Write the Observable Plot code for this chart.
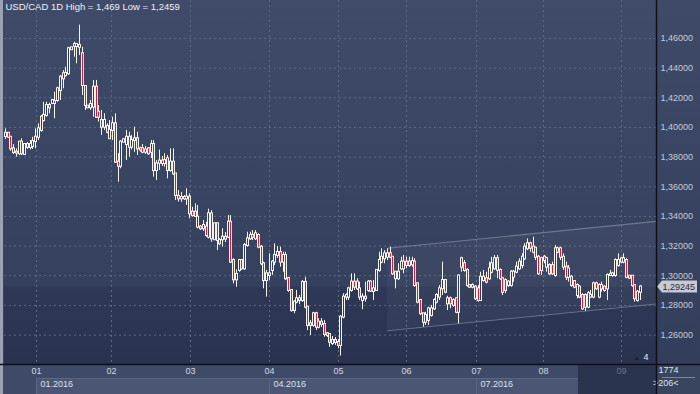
<!DOCTYPE html>
<html><head><meta charset="utf-8">
<script src="https://cdn.jsdelivr.net/npm/d3@7"></script>
<script src="https://cdn.jsdelivr.net/npm/@observablehq/plot@0.6"></script>
<style>
html,body{margin:0;padding:0;background:#3a4562;}
#chart{width:700px;height:394px;overflow:hidden;}
</style></head><body><div id="chart"></div>
<script>
// ---- Data (USD/CAD daily candles) ----
const openP = [1.3939,1.3961,1.3934,1.3856,1.3828,1.3823,1.3901,1.3818,1.3885,1.3865,1.3872,1.3905,1.3934,1.3980,1.4047,1.4081,1.4148,1.4162,1.4162,1.4182,1.4249,1.4328,1.4351,1.4362,1.4524,1.4548,1.4546,1.4541,1.4497,1.4276,1.4144,1.4133,1.4137,1.4272,1.4103,1.4047,1.4002,1.4007,1.3924,1.3980,1.4025,1.3766,1.3739,1.3901,1.3885,1.3934,1.3867,1.3912,1.3924,1.3856,1.3856,1.3833,1.3856,1.3833,1.3885,1.3710,1.3759,1.3773,1.3757,1.3789,1.3710,1.3766,1.3687,1.3535,1.3519,1.3528,1.3519,1.3530,1.3429,1.3429,1.3328,1.3328,1.3317,1.3328,1.3260,1.3418,1.3243,1.3351,1.3238,1.3243,1.3260,1.3260,1.3361,1.3103,1.2973,1.3036,1.3103,1.3047,1.3204,1.3249,1.3272,1.3249,1.3272,1.3193,1.3081,1.2968,1.3002,1.3036,1.3092,1.3137,1.3157,1.3092,1.3137,1.2980,1.2901,1.2766,1.2822,1.2845,1.2833,1.2955,1.2788,1.2665,1.2665,1.2744,1.2653,1.2687,1.2672,1.2609,1.2604,1.2543,1.2564,1.2550,1.2530,1.2721,1.2856,1.2856,1.2901,1.2957,1.2912,1.2912,1.2833,1.2856,1.2901,1.2957,1.2894,1.2901,1.3036,1.3092,1.3115,1.3125,1.3148,1.3125,1.3024,1.2980,1.3047,1.3047,1.3092,1.3092,1.3074,1.3092,1.2946,1.2833,1.2744,1.2687,1.2699,1.2732,1.2777,1.2822,1.2856,1.2912,1.2968,1.2811,1.2845,1.2800,1.2845,1.2754,1.3058,1.3081,1.3036,1.2934,1.2923,1.2923,1.2912,1.2833,1.2968,1.2980,1.2980,1.3024,1.3047,1.3115,1.3036,1.2980,1.2968,1.2934,1.2934,1.2990,1.3024,1.3047,1.3069,1.3115,1.3182,1.3216,1.3159,1.3186,1.3125,1.3036,1.3125,1.3058,1.3069,1.3069,1.3002,1.3182,1.3182,1.3125,1.3058,1.2990,1.2990,1.2961,1.2867,1.2923,1.2867,1.2867,1.2788,1.2856,1.2856,1.2946,1.2856,1.2912,1.2923,1.2912,1.3002,1.3002,1.3002,1.3069,1.3115,1.3092,1.3103,1.2997,1.2997,1.2934,1.2833,1.2889];
const highP = [1.3991,1.3966,1.3939,1.3885,1.3856,1.3907,1.3924,1.3892,1.3899,1.3912,1.3934,1.3991,1.4025,1.4081,1.4170,1.4170,1.4164,1.4189,1.4238,1.4272,1.4351,1.4384,1.4406,1.4541,1.4541,1.4575,1.4564,1.4690,1.4541,1.4280,1.4148,1.4182,1.4317,1.4317,1.4148,1.4115,1.4092,1.4025,1.4047,1.4069,1.4092,1.3823,1.3912,1.3924,1.3980,1.3968,1.3946,1.4002,1.3968,1.3867,1.3885,1.3872,1.3865,1.3912,1.3912,1.3777,1.3848,1.3804,1.3823,1.3811,1.3856,1.3856,1.3690,1.3575,1.3562,1.3541,1.3587,1.3553,1.3462,1.3485,1.3474,1.3339,1.3373,1.3361,1.3449,1.3440,1.3355,1.3355,1.3251,1.3317,1.3292,1.3406,1.3406,1.3115,1.3040,1.3110,1.3110,1.3218,1.3294,1.3294,1.3305,1.3305,1.3283,1.3204,1.3092,1.3036,1.3148,1.3103,1.3216,1.3197,1.3193,1.3159,1.3159,1.2990,1.2905,1.2833,1.2901,1.2867,1.2968,1.2990,1.2795,1.2699,1.2754,1.2754,1.2710,1.2712,1.2699,1.2618,1.2609,1.2591,1.2584,1.2570,1.2732,1.2879,1.2879,1.2923,1.3013,1.3013,1.2980,1.2957,1.2879,1.2957,1.2968,1.2968,1.2968,1.3040,1.3159,1.3182,1.3170,1.3182,1.3193,1.3130,1.3030,1.3081,1.3125,1.3137,1.3125,1.3125,1.3125,1.3115,1.2950,1.2836,1.2747,1.2754,1.2788,1.2800,1.2845,1.2879,1.2934,1.3092,1.2972,1.2862,1.2856,1.2845,1.2850,1.3005,1.3125,1.3103,1.3047,1.2941,1.2946,1.2934,1.2934,1.3024,1.3036,1.3024,1.3092,1.3125,1.3137,1.3137,1.3047,1.2990,1.2980,1.2968,1.3036,1.3036,1.3092,1.3115,1.3148,1.3216,1.3249,1.3226,1.3260,1.3193,1.3137,1.3125,1.3137,1.3125,1.3081,1.3092,1.3204,1.3193,1.3193,1.3148,1.3092,1.3069,1.3002,1.2968,1.2946,1.2934,1.2879,1.2879,1.2894,1.2901,1.2957,1.2957,1.2946,1.2957,1.2934,1.3013,1.3036,1.3024,1.3115,1.3148,1.3120,1.3148,1.3115,1.3002,1.3002,1.2938,1.2901,1.2934];
const lowP = [1.3919,1.3930,1.3840,1.3818,1.3800,1.3811,1.3811,1.3811,1.3852,1.3848,1.3852,1.3856,1.3912,1.3968,1.4036,1.4069,1.4092,1.4155,1.4059,1.4170,1.4182,1.4261,1.4339,1.4351,1.4519,1.4474,1.4429,1.4485,1.4216,1.4115,1.4126,1.4115,1.4069,1.4061,1.4036,1.3946,1.3980,1.3957,1.3919,1.3912,1.3757,1.3631,1.3721,1.3899,1.3777,1.3800,1.3848,1.3833,1.3811,1.3833,1.3823,1.3818,1.3811,1.3791,1.3665,1.3643,1.3710,1.3737,1.3732,1.3654,1.3698,1.3676,1.3508,1.3496,1.3494,1.3508,1.3474,1.3384,1.3395,1.3395,1.3317,1.3305,1.3299,1.3260,1.3249,1.3226,1.3238,1.3170,1.3204,1.3193,1.3224,1.3251,1.3083,1.2946,1.2923,1.3024,1.3036,1.3036,1.3193,1.3238,1.3238,1.3238,1.3182,1.3069,1.2912,1.2856,1.2968,1.3002,1.3069,1.3117,1.3058,1.3024,1.2968,1.2889,1.2754,1.2744,1.2811,1.2806,1.2820,1.2777,1.2631,1.2597,1.2653,1.2631,1.2642,1.2651,1.2586,1.2584,1.2518,1.2530,1.2530,1.2508,1.2459,1.2710,1.2833,1.2833,1.2889,1.2901,1.2901,1.2833,1.2771,1.2822,1.2889,1.2889,1.2833,1.2894,1.3024,1.3081,1.3081,1.3103,1.3115,1.3002,1.2912,1.2968,1.3036,1.3013,1.3047,1.3056,1.3058,1.2923,1.2811,1.2732,1.2653,1.2665,1.2665,1.2721,1.2766,1.2811,1.2833,1.2867,1.2879,1.2766,1.2777,1.2788,1.2744,1.2676,1.3024,1.3024,1.2923,1.2914,1.2912,1.2833,1.2822,1.2828,1.2957,1.2946,1.2968,1.3013,1.3036,1.2980,1.2968,1.2867,1.2879,1.2921,1.2923,1.2957,1.3013,1.3036,1.3047,1.3103,1.3170,1.3159,1.3148,1.3103,1.3002,1.3002,1.3081,1.3024,1.3002,1.3002,1.2990,1.3148,1.3103,1.3036,1.2968,1.2957,1.2923,1.2912,1.2845,1.2845,1.2766,1.2759,1.2777,1.2847,1.2845,1.2901,1.2845,1.2889,1.2889,1.2833,1.2995,1.2990,1.2990,1.3058,1.3081,1.3081,1.2980,1.2975,1.2923,1.2822,1.2822,1.2833];
const closeP = [1.3961,1.3934,1.3856,1.3831,1.3833,1.3901,1.3823,1.3885,1.3865,1.3885,1.3905,1.3934,1.3991,1.4069,1.4081,1.4148,1.4133,1.4182,1.4175,1.4261,1.4339,1.4362,1.4364,1.4531,1.4537,1.4560,1.4560,1.4553,1.4283,1.4148,1.4133,1.4155,1.4272,1.4069,1.4069,1.4002,1.4047,1.3968,1.3980,1.4025,1.3766,1.3739,1.3901,1.3917,1.3934,1.3867,1.3912,1.3924,1.3856,1.3848,1.3833,1.3848,1.3823,1.3885,1.3710,1.3755,1.3773,1.3757,1.3777,1.3710,1.3766,1.3687,1.3541,1.3519,1.3528,1.3519,1.3530,1.3418,1.3406,1.3400,1.3395,1.3317,1.3339,1.3272,1.3418,1.3249,1.3351,1.3238,1.3216,1.3260,1.3247,1.3361,1.3092,1.2973,1.3009,1.3103,1.3047,1.3204,1.3249,1.3272,1.3260,1.3283,1.3193,1.3081,1.2968,1.3013,1.3013,1.3092,1.3137,1.3157,1.3092,1.3137,1.2980,1.2901,1.2766,1.2822,1.2845,1.2833,1.2955,1.2788,1.2665,1.2676,1.2744,1.2653,1.2687,1.2672,1.2604,1.2597,1.2552,1.2564,1.2550,1.2530,1.2721,1.2856,1.2867,1.2912,1.2957,1.2923,1.2957,1.2856,1.2856,1.2845,1.2957,1.2896,1.2912,1.3036,1.3103,1.3125,1.3148,1.3148,1.3125,1.3013,1.2980,1.3024,1.3092,1.3092,1.3069,1.3069,1.3096,1.2934,1.2822,1.2744,1.2687,1.2732,1.2777,1.2777,1.2833,1.2867,1.2912,1.2968,1.2889,1.2845,1.2811,1.2833,1.2754,1.2999,1.3115,1.3036,1.2934,1.2923,1.2934,1.2845,1.2833,1.2990,1.2990,1.2957,1.3047,1.3081,1.3115,1.3036,1.2980,1.2889,1.2901,1.2957,1.3024,1.3024,1.3058,1.3092,1.3125,1.3193,1.3216,1.3186,1.3193,1.3125,1.3013,1.3115,1.3103,1.3115,1.3013,1.3013,1.3182,1.3159,1.3125,1.3058,1.2990,1.3047,1.2934,1.2923,1.2934,1.2856,1.2777,1.2788,1.2879,1.2867,1.2946,1.2912,1.2934,1.2934,1.2901,1.3002,1.3009,1.3013,1.3103,1.3103,1.3092,1.3115,1.2990,1.2984,1.2934,1.2845,1.2889,1.29245];

const monthIdx = [11.2, 38.7, 67.3, 96.2, 121.3, 146.1, 171.4, 195.6, 224.0];
const monthLabels = ["01","02","03","04","05","06","07","08","09"];
const quarterIdx = [11.2, 96.2, 171.4];
const quarterLabels = ["01.2016","04.2016","07.2016"];
const yTicks = [1.26,1.28,1.30,1.32,1.34,1.36,1.38,1.40,1.42,1.44,1.46];
const channelIdx = [138.9, 237.2];
const channelUpper = [1.3186, 1.3368];
const channelLower = [1.2629, 1.2811];
const titleText = "USD/CAD 1D High = 1,469 Low = 1,2459";
const barCountText = "1774";
const visibleText = ">206<";
const markerText = "4";

// ---- Layout ----
const W = 700, H = 394, ML = 4, MR = 44, MT = 0, MB = 30;
const xDomain = [-0.364, 236.9];
const yDomain = [1.24018, 1.48562];
const WHITE = "#f6f3ea", RED = "#e2142f", UPFILL = "#313c5a";
const lastClose = closeP[closeP.length - 1];
const fmt = d => d.toFixed(5).replace(".", ",");

const candles = d3.range(openP.length).map(i => {
  const o = openP[i], c = closeP[i];
  return {i, o, c, h: Math.max(highP[i], o, c), l: Math.min(lowP[i], o, c),
          top: Math.max(o, c), bot: Math.min(o, c), up: c >= o};
});
const chan = channelIdx.map((x, k) => ({x, u: channelUpper[k], l: channelLower[k]}));

const chart = Plot.plot({
  width: W, height: H, marginLeft: ML, marginRight: MR, marginTop: MT, marginBottom: MB,
  style: {background: "transparent", fontFamily: "'Liberation Sans', Arial, sans-serif", fontSize: "9px", overflow: "visible"},
  x: {domain: xDomain, round: true},
  y: {domain: yDomain},
  color: {type: "identity"},
  marks: [
    Plot.rectY([lastClose], {x1: () => xDomain[0], x2: () => xDomain[1], y1: () => yDomain[0], y2: d => d, fill: "url(#lowGrad)"}),
    Plot.ruleY(yTicks, {stroke: "#5d6986", strokeDasharray: "2,3"}),
    Plot.ruleX(monthIdx, {stroke: "#5d6986", strokeDasharray: "2,3"}),
    Plot.areaY(chan, {x: "x", y1: "l", y2: "u", fill: "#ffffff", fillOpacity: 0.035, clip: true}),
    Plot.lineY(chan, {x: "x", y: "u", stroke: "#8f98aa", strokeOpacity: 0.6, strokeWidth: 1.1, clip: true}),
    Plot.lineY(chan, {x: "x", y: "l", stroke: "#8f98aa", strokeOpacity: 0.6, strokeWidth: 1.1, clip: true}),
    Plot.ruleX(candles, {x: "i", y1: "l", y2: "h", stroke: WHITE, strokeWidth: 1}),
    Plot.ruleX(candles, {x: "i", y1: "top", y2: "bot", stroke: WHITE, strokeWidth: 3, insetTop: -1, insetBottom: -1}),
    Plot.ruleX(candles, {x: "i", y1: "top", y2: "bot", stroke: d => d.up ? UPFILL : RED, strokeWidth: 1}),
    Plot.axisY(yTicks, {anchor: "right", tickSize: 0, tickPadding: 4, tickFormat: fmt, color: "#c5cbd8", fontSize: 9, label: null}),
    Plot.axisX(monthIdx.slice(0, 8), {anchor: "bottom", tickSize: 0, tickPadding: 3, tickFormat: d => monthLabels[monthIdx.indexOf(d)], color: "#d3d8e2", fontSize: 9, label: null}),
    Plot.axisX(monthIdx.slice(8), {anchor: "bottom", tickSize: 0, tickPadding: 3, tickFormat: d => monthLabels[monthIdx.indexOf(d)], color: "#66718b", fontSize: 9, label: null}),
    Plot.axisX(quarterIdx, {anchor: "bottom", tickSize: 0, tickPadding: 16, textAnchor: "start", dx: 4, tickFormat: d => quarterLabels[quarterIdx.indexOf(d)], color: "#dde1e9", fontSize: 9, label: null}),
    Plot.text([titleText], {text: d => d, frameAnchor: "top-left", lineAnchor: "top", textAnchor: "start", dx: 1, dy: 3, fill: "#f0f1f4", fontSize: 9.5}),
    Plot.text([lastClose], {y: d => d, text: fmt, frameAnchor: "right", textAnchor: "start", dx: 6, fill: "#1f2840", fontSize: 9}),
    Plot.text([barCountText], {text: d => d, frameAnchor: "bottom-right", dx: 22, dy: 8, fill: "#dfe3ea", fontSize: 9}),
    Plot.text([visibleText], {text: d => d, frameAnchor: "bottom-right", dx: 22, dy: 21, fill: "#dfe3ea", fontSize: 9}),
    Plot.text([markerText], {text: d => d, frameAnchor: "bottom-right", dx: -8, dy: -5, fill: "#e6e9ee", fontSize: 9}),
    Plot.text(["\u25B2"], {text: d => d, frameAnchor: "bottom-right", dx: -16, dy: -5, fill: "#1b2235", fontSize: 7})
  ]
});

// ---- Chrome behind the marks ----
const svg = d3.select(chart);
const xs = chart.scale("x"), ys = chart.scale("y");
const X = v => xs.apply(v), Y = v => ys.apply(v);
const right = W - MR, bottom = H - MB, darkStart = 578;
const defs = svg.append("defs");
function grad(id, c1, c2) {
  const g = defs.append("linearGradient").attr("id", id).attr("x1", 0).attr("y1", 0).attr("x2", 0).attr("y2", 1);
  g.append("stop").attr("offset", "0%").attr("stop-color", c1);
  g.append("stop").attr("offset", "100%").attr("stop-color", c2);
}
grad("topGrad", "#3f4b69", "#323d5b");
grad("lowGrad", "#2f3957", "#29324f");
grad("rightGrad", "#3e4a68", "#333e5b");

const bg = svg.insert("g", ":first-child");
bg.append("rect").attr("x", 0).attr("y", 0).attr("width", W).attr("height", H).attr("fill", "#3a4562");
bg.append("rect").attr("x", ML).attr("y", 0).attr("width", right - ML).attr("height", bottom).attr("fill", "url(#topGrad)");
bg.append("rect").attr("x", right).attr("y", 0).attr("width", MR).attr("height", bottom).attr("fill", "url(#rightGrad)");
bg.append("rect").attr("x", 0).attr("y", bottom).attr("width", right).attr("height", MB).attr("fill", "#3e4a68");
quarterIdx.forEach((q, k) => {
  const x0 = X(q), x1 = k < quarterIdx.length - 1 ? X(quarterIdx[k + 1]) : darkStart;
  bg.append("rect").attr("x", x0 + 0.5).attr("y", 378.5).attr("width", x1 - x0).attr("height", 16)
    .attr("fill", "#4a5673").attr("stroke", "#5b6784").attr("stroke-width", 1);
});
bg.append("rect").attr("x", darkStart).attr("y", bottom + 1).attr("width", right - darkStart).attr("height", MB).attr("fill", "#2b344e");
bg.append("rect").attr("x", right).attr("y", bottom).attr("width", MR).attr("height", MB).attr("fill", "#39445f");
bg.append("line").attr("x1", 662).attr("x2", 695).attr("y1", 377.5).attr("y2", 377.5).attr("stroke", "#7c869c");
bg.append("rect").attr("x", 0).attr("y", 0).attr("width", 3).attr("height", H).attr("fill", "#9aa2b4");
const py = Y(lastClose);
bg.append("path").attr("d", `M${right + 1},${py} L${right + 6},${py - 6} L${W - 3},${py - 6} L${W - 3},${py + 6} L${right + 6},${py + 6} Z`)
  .attr("fill", "#c6cad3");

// separators on top
svg.append("line").attr("x1", right + 0.5).attr("x2", right + 0.5).attr("y1", 0).attr("y2", H).attr("stroke", "#0d1016").attr("stroke-width", 1.5);
svg.append("line").attr("x1", 0).attr("x2", W).attr("y1", bottom + 0.5).attr("y2", bottom + 0.5).attr("stroke", "#0d1016").attr("stroke-width", 1.5);

document.getElementById("chart").appendChild(chart);
</script>
</body></html>
